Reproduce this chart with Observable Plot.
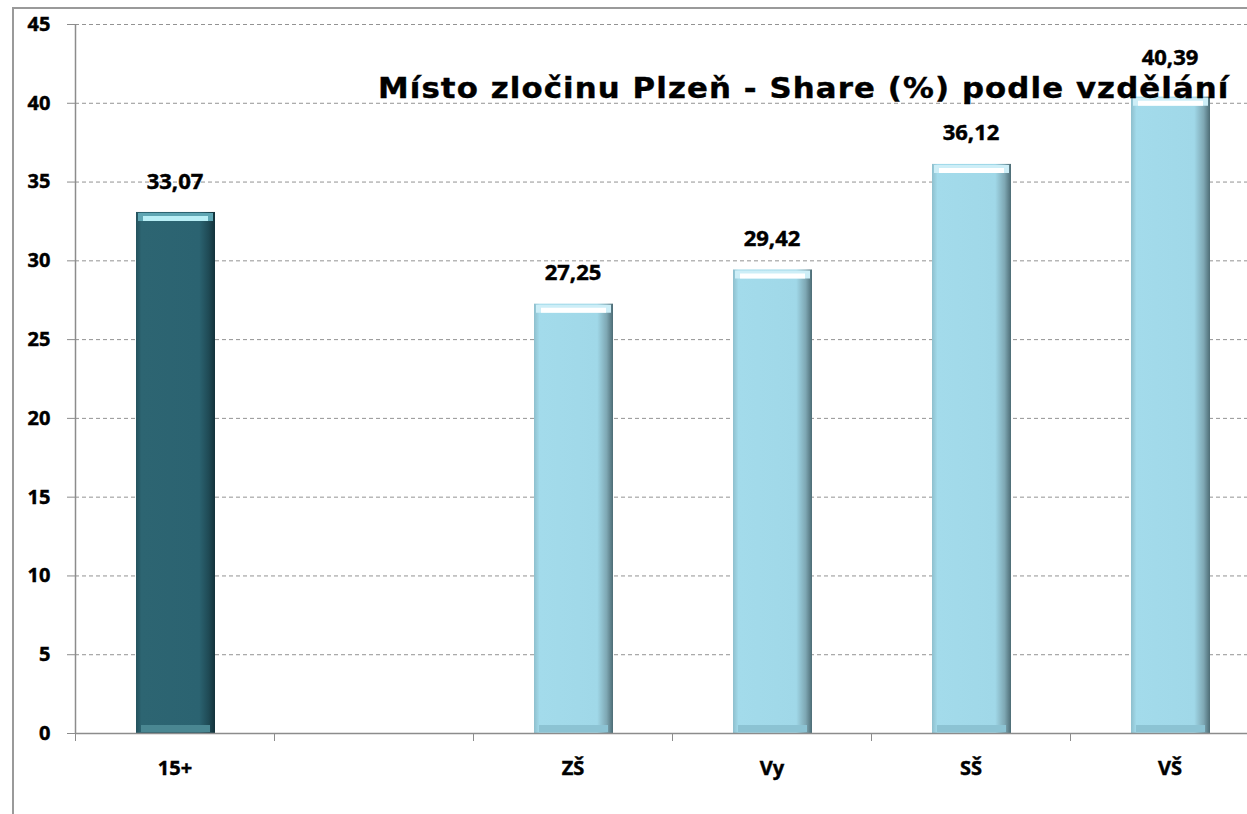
<!DOCTYPE html>
<html>
<head>
<meta charset="utf-8">
<script src="https://cdn.jsdelivr.net/npm/d3@7"></script>
<script src="https://cdn.jsdelivr.net/npm/@observablehq/plot@0.6"></script>
<style>
  html, body { margin: 0; padding: 0; background: white; }
  #wrap { position: relative; width: 1247px; height: 814px; overflow: hidden; }
  #border { position: absolute; left: 12px; top: 7px; right: -5px; bottom: -5px; border-left: 2px solid #9a9a9a; border-top: 2px solid #9a9a9a; pointer-events: none; }
  #title { position: absolute; left: 378px; top: 72px; font-family: "DejaVu Sans", Verdana, sans-serif; font-weight: bold; font-size: 28px; letter-spacing: 1px; line-height: normal; color: #000; white-space: nowrap; transform-origin: 0 0; transform: scaleX(1.1); -webkit-text-stroke: 0.4px #000; }
  svg text { stroke: #000; stroke-width: 0.45px; }
</style>
</head>
<body>
<div id="wrap">
  <div id="chart"></div>
  <div id="border"></div>
  <div id="title">Místo zločinu Plzeň - Share (%) podle vzdělání</div>
</div>
<script>
const categories = ["15+", "", "ZŠ", "Vy", "SŠ", "VŠ"];
const values = [33.07, null, 27.25, 29.42, 36.12, 40.39];
const groups = ["total", null, "edu", "edu", "edu", "edu"];
const yTicks = [0, 5, 10, 15, 20, 25, 30, 35, 40, 45];

const baseColor = {total: "#2b6472", edu: "#a2d9ea"};
const topLight = {total: "#5fa6b3", edu: "#cdeef7"};
const topWhite = {total: "#b8eef5", edu: "#ffffff"};
const bottomBand = {total: "#4a8792", edu: "#8cc3d3"};
const gradId = {total: "gTotal", edu: "gEdu"};

const data = categories
  .map((c, i) => ({cat: c, value: values[i], group: groups[i]}))
  .filter(d => d.value != null);

const fmt = v => v.toFixed(2).replace(".", ",");

const ff = "'Noto Sans', 'Open Sans', sans-serif";
const lastCat = "VŠ"; // its label sits a little higher, above the title

const svg = Plot.plot({
  width: 1247,
  height: 814,
  marginLeft: 75,
  marginRight: 0,
  marginTop: 24,
  marginBottom: 81,
  style: {fontFamily: ff, fontSize: "20px", fontWeight: "bold", background: "transparent", color: "#000"},
  x: {domain: categories, range: [75, 1269], padding: 0},
  y: {domain: [0, 45]},
  color: {type: "identity"},
  marks: [
    Plot.gridY(yTicks, {stroke: "#939393", strokeOpacity: 1, strokeDasharray: "4,3"}),
    Plot.barY(data, {x: "cat", y: "value", fill: d => baseColor[d.group], insetLeft: 61, insetRight: 59}),
    Plot.tickY(data, {x: "cat", y: 0, dy: -5, stroke: d => bottomBand[d.group], strokeWidth: 7, insetLeft: 66, insetRight: 64}),
    Plot.tickY(data, {x: "cat", y: "value", dy: 4.5, stroke: d => topLight[d.group], strokeWidth: 8, insetLeft: 63, insetRight: 61}),
    Plot.tickY(data, {x: "cat", y: "value", dy: 6, stroke: d => topWhite[d.group], strokeWidth: 5, insetLeft: 68, insetRight: 66}),
    Plot.ruleY([0], {stroke: "#8c8c8c", strokeWidth: 1.5}),
    Plot.ruleX(["15+"], {x: d => d, dx: -99.5, y1: 0, y2: 45, stroke: "#8c8c8c", strokeWidth: 1.5}),
    Plot.axisY(yTicks, {tickSize: 8, tickPadding: 17, stroke: "#8c8c8c", fill: "#000", fontSize: 20, fontWeight: "bold", label: null}),
    Plot.axisX({tickSize: 8, tickFormat: () => "", dx: -99.5, stroke: "#8c8c8c", label: null}),
    Plot.axisX({tickSize: 0, tickPadding: 27, fill: "#000", fontSize: 20, fontWeight: "bold", label: null}),
    Plot.text(data.filter(d => d.cat !== lastCat), {x: "cat", y: "value", text: d => fmt(d.value), dy: -31, fill: "#000", fontSize: 22, fontWeight: "bold"}),
    Plot.text(data.filter(d => d.cat === lastCat), {x: "cat", y: "value", text: d => fmt(d.value), dy: -39, fill: "#000", fontSize: 22, fontWeight: "bold"})
  ]
});

// gradient definitions for bevel-like side shading
const defs = d3.select(svg).insert("defs", ":first-child");
function grad(id, stops) {
  const g = defs.append("linearGradient").attr("id", id).attr("x1", "0").attr("x2", "1").attr("y1", "0").attr("y2", "0");
  stops.forEach(([o, c]) => g.append("stop").attr("offset", o).attr("stop-color", c));
}
grad("gTotal", [["0", "#24525d"], ["0.07", "#2d6572"], ["0.8", "#2b6371"], ["0.92", "#1f4a55"], ["1", "#12313a"]]);
grad("gEdu", [["0", "#8ebfcd"], ["0.07", "#a3dbeb"], ["0.8", "#a0d8e8"], ["0.92", "#7ea7b3"], ["1", "#4d6c75"]]);

d3.select(svg).selectAll("g[aria-label='bar'] rect").each(function(_, i) {
  d3.select(this).attr("fill", `url(#${gradId[data[i].group]})`);
});

document.getElementById("chart").appendChild(svg);
</script>
</body>
</html>
